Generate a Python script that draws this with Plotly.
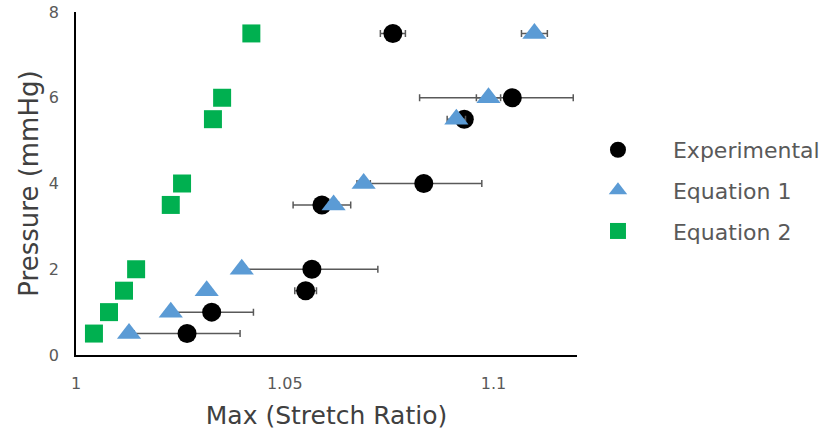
import plotly.graph_objects as go

# Pressure levels (mmHg)
pressure = [0.5, 1.0, 1.5, 2.0, 3.5, 4.0, 5.5, 6.0, 7.5]

# Maximum stretch ratio per pressure level
experimental = [1.0266, 1.0325, 1.0550, 1.0565, 1.0589, 1.0833, 1.0930, 1.1045, 1.0759]
experimental_err_plus = [0.0127, 0.0100, 0.0026, 0.0158, 0.0069, 0.0139, 0.0010, 0.0146, 0.0030]
experimental_err_minus = [0.0127, 0.0100, 0.0026, 0.0158, 0.0069, 0.0139, 0.0010, 0.0222, 0.0030]

equation1 = [1.0127, 1.0227, 1.0313, 1.0397, 1.0617, 1.0689, 1.0911, 1.0988, 1.1098]
equation1_err = [0.0008, 0.0008, 0.0008, 0.0010, 0.0012, 0.0016, 0.0022, 0.0029, 0.0031]

equation2 = [1.0043, 1.0079, 1.0115, 1.0144, 1.0227, 1.0254, 1.0328, 1.0350, 1.0420]

x_ticks = [1, 1.05, 1.1]
x_tick_labels = ["1", "1.05", "1.1"]
y_ticks = [0, 2, 4, 6, 8]

FONT = "DejaVu Sans"
TEXT_GREY = "#595959"
TITLE_GREY = "#404040"
BAR_GREY = "#595959"

fig = go.Figure()

fig.add_trace(go.Scatter(
    x=experimental, y=pressure, mode="markers", name="Experimental",
    legendgroup="a",
    marker=dict(symbol="circle", size=19, color="#000000"),
    error_x=dict(type="data", symmetric=False, array=experimental_err_plus,
                 arrayminus=experimental_err_minus, color=BAR_GREY,
                 thickness=1.5, width=3.5),
))
fig.add_trace(go.Scatter(
    x=equation1, y=pressure, mode="markers", name="Equation 1",
    legendgroup="b",
    marker=dict(symbol="triangle-up", size=21, color="#5B9BD5"),
    error_x=dict(type="data", array=equation1_err, color=BAR_GREY,
                 thickness=1.5, width=3.5),
))
fig.add_trace(go.Scatter(
    x=equation2, y=pressure, mode="markers", name="Equation 2",
    legendgroup="c",
    marker=dict(symbol="square", size=18, color="#00B050"),
))

fig.update_layout(
    width=835, height=436,
    margin=dict(l=76, r=258, t=12, b=81, autoexpand=False),
    paper_bgcolor="white", plot_bgcolor="white",
    font=dict(family=FONT, color=TEXT_GREY),
    showlegend=True,
    legend=dict(
        x=0.972, y=0.659, xanchor="left", yanchor="top",
        font=dict(size=22, color=TEXT_GREY, family=FONT),
        tracegroupgap=9, itemwidth=100, bgcolor="rgba(0,0,0,0)",
    ),
)
fig.update_xaxes(
    range=[1, 1.12], tickvals=x_ticks, ticktext=x_tick_labels,
    showline=True, linecolor="#000000", linewidth=1.5, mirror=False,
    showgrid=False, zeroline=False, ticks="", automargin=False,
    ticklabelstandoff=13,
    tickfont=dict(size=16, color=TEXT_GREY, family=FONT),
    title=dict(text="Max (Stretch Ratio)", standoff=15,
               font=dict(size=25, color=TITLE_GREY, family=FONT)),
)
fig.update_yaxes(
    range=[0, 8], tickvals=y_ticks,
    showline=True, linecolor="#000000", linewidth=1.5, mirror=False,
    showgrid=False, zeroline=False, ticks="", automargin=False,
    ticklabelstandoff=12,
    tickfont=dict(size=16, color=TEXT_GREY, family=FONT),
    title=dict(text="Pressure (mmHg)", standoff=3,
               font=dict(size=26, color=TITLE_GREY, family=FONT)),
)

fig.write_html("out.html")
